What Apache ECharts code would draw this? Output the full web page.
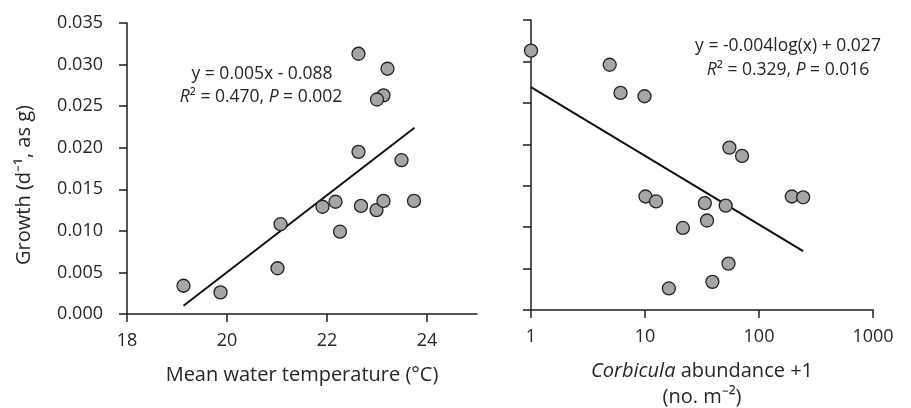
<!DOCTYPE html>
<html lang="en">
<head>
    <meta charset="UTF-8">
    <title>Growth vs temperature and Corbicula abundance</title>
    <script src="https://cdn.jsdelivr.net/npm/echarts@6/dist/echarts.min.js"></script>
    <style>
        html, body { margin: 0; padding: 0; background: #fff; }
        #chart { width: 911px; height: 408px; }
    </style>
</head>
<body>
<div id="chart"></div>
<script type="text/javascript">
    // left panel: mean water temperature
    var tempX = [22.63, 23.21, 23.13, 23.0, 22.63, 23.49, 22.17, 21.91, 22.68, 22.99, 23.13, 23.74, 21.07, 22.26, 21.01, 19.13, 19.87];
    var tempGrowth = [0.0313, 0.0295, 0.0263, 0.0258, 0.0195, 0.0185, 0.0135, 0.0129, 0.0130, 0.0125, 0.0136, 0.0136, 0.0108, 0.0099, 0.0055, 0.0034, 0.0026];
    var tempFitX = [19.13, 23.75];
    var tempFitY = [0.0010, 0.0224];
    var tempTicks = [18, 20, 22, 24];

    // right panel: Corbicula abundance +1
    var abundX = [1, 4.9, 6.1, 9.9, 55, 71, 10.1, 12.5, 33.5, 51, 194, 244, 35, 21.5, 54, 39, 16.2];
    var abundGrowth = [0.0313, 0.0296, 0.0262, 0.0258, 0.0196, 0.0186, 0.0137, 0.0131, 0.0129, 0.0126, 0.0137, 0.0136, 0.0108, 0.0099, 0.0056, 0.0034, 0.0026];
    var abundFitX = [1, 244];
    var abundFitY = [0.0269, 0.0071];

    var growthMin = 0, growthMax = 0.035, growthStep = 0.005;

    function pairs(xs, ys) {
        var out = [];
        for (var i = 0; i < xs.length; i++) out.push([xs[i], ys[i]]);
        return out;
    }

    var font = 'Open Sans';
    var txt = '#262626';
    var axisCol = '#1f1f1f';
    var tickSize = 18;
    var titleFont = '20px "Open Sans"';
    var eqSize = 17.5;
    var eqFont = eqSize + 'px "Open Sans"';

    var lineStyle = { color: axisCol, width: 1.5 };
    var tickStyle = { show: true, inside: false, length: 8, lineStyle: { color: axisCol, width: 1.5 } };

    var myChart = echarts.init(document.getElementById('chart'));
    var option = {
        animation: false,
        backgroundColor: '#fff',
        grid: [
            { left: 127, top: 23, width: 350, height: 291 },
            { left: 531, top: 20, width: 342, height: 290 }
        ],
        xAxis: [
            {
                gridIndex: 0, type: 'value', min: 18, max: 25,
                axisLine: { lineStyle: lineStyle },
                axisTick: { show: true, length: 8, lineStyle: tickStyle.lineStyle, customValues: tempTicks },
                axisLabel: { customValues: tempTicks, margin: 18, fontSize: tickSize, fontFamily: font, color: txt },
                splitLine: { show: false }
            },
            {
                gridIndex: 1, type: 'log', logBase: 10, min: 1, max: 1000,
                axisLine: { lineStyle: lineStyle },
                axisTick: tickStyle,
                axisLabel: {
                    margin: 18, fontSize: tickSize, fontFamily: font, color: txt,
                    formatter: function (v) { return String(Math.round(v)); }
                },
                splitLine: { show: false },
                minorTick: { show: false }
            }
        ],
        yAxis: [
            {
                gridIndex: 0, type: 'value', min: growthMin, max: growthMax, interval: growthStep,
                axisLine: { show: true, lineStyle: lineStyle },
                axisTick: tickStyle,
                axisLabel: {
                    margin: 24, fontSize: tickSize, fontFamily: font, color: txt,
                    formatter: function (v) { return v.toFixed(3); }
                },
                splitLine: { show: false }
            },
            {
                gridIndex: 1, type: 'value', min: growthMin, max: growthMax, interval: growthStep,
                axisLine: { show: true, lineStyle: lineStyle },
                axisTick: tickStyle,
                axisLabel: { show: false },
                splitLine: { show: false }
            }
        ],
        series: [
            {
                type: 'line', xAxisIndex: 0, yAxisIndex: 0,
                data: pairs(tempFitX, tempFitY),
                symbol: 'none', lineStyle: { color: '#111', width: 2 }, z: 2
            },
            {
                type: 'scatter', xAxisIndex: 0, yAxisIndex: 0,
                data: pairs(tempX, tempGrowth),
                symbolSize: 13,
                itemStyle: { color: '#a6a6a6', borderColor: '#222', borderWidth: 1.3, opacity: 1 },
                z: 3
            },
            {
                type: 'line', xAxisIndex: 1, yAxisIndex: 1,
                data: pairs(abundFitX, abundFitY),
                symbol: 'none', lineStyle: { color: '#111', width: 2 }, z: 2
            },
            {
                type: 'scatter', xAxisIndex: 1, yAxisIndex: 1,
                data: pairs(abundX, abundGrowth),
                symbolSize: 13,
                itemStyle: { color: '#a6a6a6', borderColor: '#222', borderWidth: 1.3, opacity: 1 },
                z: 3
            }
        ],
        graphic: [
            // y axis title
            {
                type: 'text', x: 24, y: 185, rotation: Math.PI / 2,
                style: { text: 'Growth (d⁻¹, as g)', font: titleFont, fill: txt, align: 'center', verticalAlign: 'middle' }
            },
            // x axis titles
            {
                type: 'text', x: 302, y: 375,
                style: { text: 'Mean water temperature (°C)', font: titleFont, fill: txt, align: 'center', verticalAlign: 'middle' }
            },
            {
                type: 'text', x: 702, y: 371,
                style: {
                    text: '{i|Corbicula} abundance +1', fill: txt, align: 'center', verticalAlign: 'middle',
                    font: titleFont,
                    rich: { i: { fontStyle: 'italic', fontSize: 20, fontFamily: font, fill: txt } }
                }
            },
            {
                type: 'text', x: 702, y: 397,
                style: { text: '(no. m⁻²)', font: titleFont, fill: txt, align: 'center', verticalAlign: 'middle' }
            },
            // regression equations
            {
                type: 'text', x: 262, y: 74,
                style: { text: 'y = 0.005x - 0.088', font: eqFont, fill: txt, align: 'center', verticalAlign: 'middle' }
            },
            {
                type: 'text', x: 261, y: 97,
                style: {
                    text: '{i|R}² = 0.470, {i|P} = 0.002', fill: txt, align: 'center', verticalAlign: 'middle',
                    font: eqFont,
                    rich: { i: { fontStyle: 'italic', fontSize: eqSize, fontFamily: font, fill: txt } }
                }
            },
            {
                type: 'text', x: 788, y: 46,
                style: { text: 'y = -0.004log(x) + 0.027', font: eqFont, fill: txt, align: 'center', verticalAlign: 'middle' }
            },
            {
                type: 'text', x: 788, y: 70,
                style: {
                    text: '{i|R}² = 0.329, {i|P} = 0.016', fill: txt, align: 'center', verticalAlign: 'middle',
                    font: eqFont,
                    rich: { i: { fontStyle: 'italic', fontSize: eqSize, fontFamily: font, fill: txt } }
                }
            }
        ]
    };
    myChart.setOption(option);
</script>
</body>
</html>
